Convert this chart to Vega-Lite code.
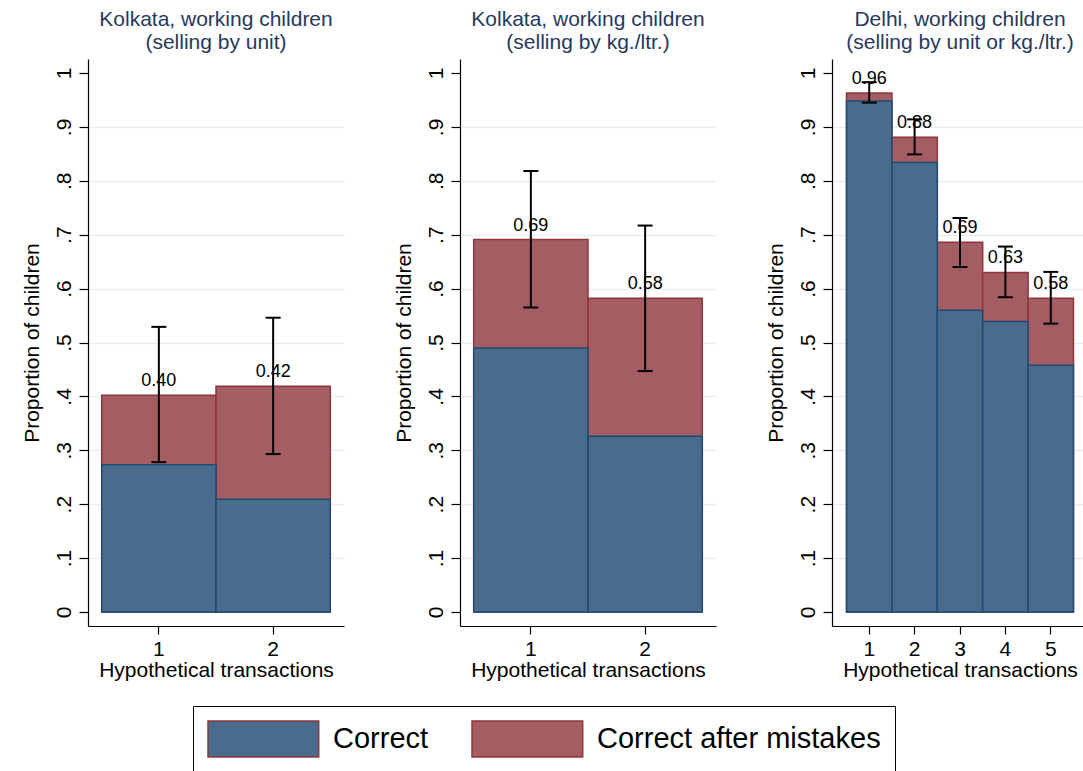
{
  "$schema": "https://vega.github.io/schema/vega-lite/v6.json",
  "background": "white",
  "padding": {"left": 21, "top": 9, "right": 0, "bottom": 0},
  "spacing": 116,
  "bounds": "flush",
  "resolve": {
    "scale": {"x": "independent", "y": "independent", "color": "shared"},
    "legend": {"color": "shared"}
  },
  "hconcat": [
    {
      "width": 256,
      "height": 567,
      "title": {"text": ["Kolkata, working children", "(selling by unit)"]},
      "data": {
        "values": [
          {"t": 1, "correct": 0.273, "total": 0.402, "lo": 0.278, "hi": 0.529},
          {"t": 2, "correct": 0.209, "total": 0.419, "lo": 0.293, "hi": 0.546}
        ]
      },
      "encoding": {
        "x": {
          "field": "t", "type": "ordinal",
          "scale": {"paddingInner": 0, "paddingOuter": 0.12},
          "axis": {"title": "Hypothetical transactions"}
        }
      },
      "layer": [
        {
          "mark": {"type": "bar", "stroke": "#90353b", "strokeWidth": 1.5},
          "encoding": {
            "y": {
              "field": "total", "type": "quantitative", "title": "Proportion of children",
              "scale": {"domain": [-0.026, 1.026], "nice": false, "zero": false},
              "axis": {
                "title": "Proportion of children",
                "values": [0, 0.1, 0.2, 0.3, 0.4, 0.5, 0.6, 0.7, 0.8, 0.9, 1],
                "labelExpr": "datum.value == 0 ? '0' : datum.value == 1 ? '1' : replace(format(datum.value, '.1f'), '0.', '.')",
                "gridOpacity": {"condition": {"test": "datum.value == 0 || datum.value == 1", "value": 0}, "value": 1}
              }
            },
            "y2": {"datum": 0},
            "color": {
              "datum": "Correct after mistakes",
              "scale": {"domain": ["Correct", "Correct after mistakes"], "range": ["#496b8c", "#a45d62"]},
              "legend": {
                "orient": "none",
                "legendX": 105,
                "legendY": 647,
                "direction": "horizontal",
                "title": null,
                "symbolType": "M-1,-1H5.15V1H-1Z",
                "symbolSize": 1296,
                "symbolOpacity": 1,
                "symbolStrokeWidth": 1.5,
                "labelFont": "Liberation Sans",
                "labelFontSize": 29,
                "labelColor": "#000",
                "labelLimit": 400,
                "labelOffset": 88,
                "columnPadding": 40,
                "padding": 14,
                "strokeColor": "#000",
                "fillColor": "#fff",
                "encode": {
                  "symbols": {
                    "update": {
                      "stroke": {"signal": "datum.value === 'Correct' ? '#1f4a72' : '#90353b'"}
                    }
                  }
                }
              }
            }
          }
        },
        {
          "mark": {"type": "bar", "stroke": "#1f4a72", "strokeWidth": 1.5},
          "encoding": {
            "y": {"field": "correct", "type": "quantitative", "title": "Proportion of children", "scale": {"domain": [-0.026, 1.026], "nice": false, "zero": false}},
            "y2": {"datum": 0},
            "color": {"datum": "Correct"}
          }
        },
        {
          "mark": {"type": "text", "fontSize": 18, "baseline": "alphabetic", "dy": -9, "color": "#000"},
          "encoding": {
            "y": {"field": "total", "type": "quantitative", "title": "Proportion of children", "scale": {"domain": [-0.026, 1.026], "nice": false, "zero": false}},
            "text": {"field": "total", "type": "quantitative", "format": ".2f"}
          }
        },
        {
          "mark": {"type": "rule", "strokeWidth": 2, "color": "#000"},
          "encoding": {
            "y": {"field": "lo", "type": "quantitative", "title": "Proportion of children", "scale": {"domain": [-0.026, 1.026], "nice": false, "zero": false}},
            "y2": {"field": "hi"}
          }
        },
        {
          "mark": {"type": "tick", "size": 15, "thickness": 2, "color": "#000", "opacity": 1},
          "encoding": {
            "y": {"field": "lo", "type": "quantitative", "title": "Proportion of children", "scale": {"domain": [-0.026, 1.026], "nice": false, "zero": false}}
          }
        },
        {
          "mark": {"type": "tick", "size": 15, "thickness": 2, "color": "#000", "opacity": 1},
          "encoding": {
            "y": {"field": "hi", "type": "quantitative", "title": "Proportion of children", "scale": {"domain": [-0.026, 1.026], "nice": false, "zero": false}}
          }
        }
      ]
    },
    {
      "width": 256,
      "height": 567,
      "title": {"text": ["Kolkata, working children", "(selling by kg./ltr.)"]},
      "data": {
        "values": [
          {"t": 1, "correct": 0.49, "total": 0.691, "lo": 0.565, "hi": 0.818},
          {"t": 2, "correct": 0.326, "total": 0.582, "lo": 0.447, "hi": 0.717}
        ]
      },
      "encoding": {
        "x": {
          "field": "t", "type": "ordinal",
          "scale": {"paddingInner": 0, "paddingOuter": 0.12},
          "axis": {"title": "Hypothetical transactions"}
        }
      },
      "layer": [
        {
          "mark": {"type": "bar", "stroke": "#90353b", "strokeWidth": 1.5},
          "encoding": {
            "y": {
              "field": "total", "type": "quantitative", "title": "Proportion of children",
              "scale": {"domain": [-0.026, 1.026], "nice": false, "zero": false},
              "axis": {
                "title": "Proportion of children",
                "values": [0, 0.1, 0.2, 0.3, 0.4, 0.5, 0.6, 0.7, 0.8, 0.9, 1],
                "labelExpr": "datum.value == 0 ? '0' : datum.value == 1 ? '1' : replace(format(datum.value, '.1f'), '0.', '.')",
                "gridOpacity": {"condition": {"test": "datum.value == 0 || datum.value == 1", "value": 0}, "value": 1}
              }
            },
            "y2": {"datum": 0},
            "color": {"datum": "Correct after mistakes"}
          }
        },
        {
          "mark": {"type": "bar", "stroke": "#1f4a72", "strokeWidth": 1.5},
          "encoding": {
            "y": {"field": "correct", "type": "quantitative", "title": "Proportion of children", "scale": {"domain": [-0.026, 1.026], "nice": false, "zero": false}},
            "y2": {"datum": 0},
            "color": {"datum": "Correct"}
          }
        },
        {
          "mark": {"type": "text", "fontSize": 18, "baseline": "alphabetic", "dy": -9, "color": "#000"},
          "encoding": {
            "y": {"field": "total", "type": "quantitative", "title": "Proportion of children", "scale": {"domain": [-0.026, 1.026], "nice": false, "zero": false}},
            "text": {"field": "total", "type": "quantitative", "format": ".2f"}
          }
        },
        {
          "mark": {"type": "rule", "strokeWidth": 2, "color": "#000"},
          "encoding": {
            "y": {"field": "lo", "type": "quantitative", "title": "Proportion of children", "scale": {"domain": [-0.026, 1.026], "nice": false, "zero": false}},
            "y2": {"field": "hi"}
          }
        },
        {
          "mark": {"type": "tick", "size": 15, "thickness": 2, "color": "#000", "opacity": 1},
          "encoding": {
            "y": {"field": "lo", "type": "quantitative", "title": "Proportion of children", "scale": {"domain": [-0.026, 1.026], "nice": false, "zero": false}}
          }
        },
        {
          "mark": {"type": "tick", "size": 15, "thickness": 2, "color": "#000", "opacity": 1},
          "encoding": {
            "y": {"field": "hi", "type": "quantitative", "title": "Proportion of children", "scale": {"domain": [-0.026, 1.026], "nice": false, "zero": false}}
          }
        }
      ]
    },
    {
      "width": 256,
      "height": 567,
      "title": {"text": ["Delhi, working children", "(selling by unit or kg./ltr.)"]},
      "data": {
        "values": [
          {"t": 1, "correct": 0.948, "total": 0.963, "lo": 0.945, "hi": 0.983},
          {"t": 2, "correct": 0.834, "total": 0.881, "lo": 0.849, "hi": 0.914},
          {"t": 3, "correct": 0.56, "total": 0.686, "lo": 0.64, "hi": 0.731},
          {"t": 4, "correct": 0.539, "total": 0.63, "lo": 0.584, "hi": 0.678},
          {"t": 5, "correct": 0.458, "total": 0.582, "lo": 0.535, "hi": 0.631}
        ]
      },
      "encoding": {
        "x": {
          "field": "t", "type": "ordinal",
          "scale": {"paddingInner": 0, "paddingOuter": 0.32},
          "axis": {"title": "Hypothetical transactions"}
        }
      },
      "layer": [
        {
          "mark": {"type": "bar", "stroke": "#90353b", "strokeWidth": 1.5},
          "encoding": {
            "y": {
              "field": "total", "type": "quantitative", "title": "Proportion of children",
              "scale": {"domain": [-0.026, 1.026], "nice": false, "zero": false},
              "axis": {
                "title": "Proportion of children",
                "values": [0, 0.1, 0.2, 0.3, 0.4, 0.5, 0.6, 0.7, 0.8, 0.9, 1],
                "labelExpr": "datum.value == 0 ? '0' : datum.value == 1 ? '1' : replace(format(datum.value, '.1f'), '0.', '.')",
                "gridOpacity": {"condition": {"test": "datum.value == 0 || datum.value == 1", "value": 0}, "value": 1}
              }
            },
            "y2": {"datum": 0},
            "color": {"datum": "Correct after mistakes"}
          }
        },
        {
          "mark": {"type": "bar", "stroke": "#1f4a72", "strokeWidth": 1.5},
          "encoding": {
            "y": {"field": "correct", "type": "quantitative", "title": "Proportion of children", "scale": {"domain": [-0.026, 1.026], "nice": false, "zero": false}},
            "y2": {"datum": 0},
            "color": {"datum": "Correct"}
          }
        },
        {
          "mark": {"type": "text", "fontSize": 18, "baseline": "alphabetic", "dy": -9, "color": "#000"},
          "encoding": {
            "y": {"field": "total", "type": "quantitative", "title": "Proportion of children", "scale": {"domain": [-0.026, 1.026], "nice": false, "zero": false}},
            "text": {"field": "total", "type": "quantitative", "format": ".2f"}
          }
        },
        {
          "mark": {"type": "rule", "strokeWidth": 2, "color": "#000"},
          "encoding": {
            "y": {"field": "lo", "type": "quantitative", "title": "Proportion of children", "scale": {"domain": [-0.026, 1.026], "nice": false, "zero": false}},
            "y2": {"field": "hi"}
          }
        },
        {
          "mark": {"type": "tick", "size": 15, "thickness": 2, "color": "#000", "opacity": 1},
          "encoding": {
            "y": {"field": "lo", "type": "quantitative", "title": "Proportion of children", "scale": {"domain": [-0.026, 1.026], "nice": false, "zero": false}}
          }
        },
        {
          "mark": {"type": "tick", "size": 15, "thickness": 2, "color": "#000", "opacity": 1},
          "encoding": {
            "y": {"field": "hi", "type": "quantitative", "title": "Proportion of children", "scale": {"domain": [-0.026, 1.026], "nice": false, "zero": false}}
          }
        }
      ]
    }
  ],
  "config": {
    "font": "Liberation Sans",
    "view": {"stroke": null},
    "axis": {
      "labelFont": "Liberation Sans",
      "titleFont": "Liberation Sans",
      "labelFontSize": 21,
      "titleFontSize": 21,
      "titleFontWeight": "normal",
      "labelColor": "#000",
      "titleColor": "#000",
      "domainColor": "#000",
      "tickColor": "#000",
      "domainWidth": 1.2,
      "tickWidth": 1.2
    },
    "axisY": {
      "gridColor": "#e6eef1",
      "gridWidth": 1.5,
      "tickSize": 9,
      "labelAngle": -90,
      "labelAlign": "center",
      "labelBaseline": "bottom",
      "labelPadding": 5,
      "titlePadding": 11
    },
    "axisX": {
      "grid": false,
      "tickSize": 8,
      "labelAngle": 0,
      "labelPadding": 4,
      "titlePadding": 0
    },
    "title": {
      "font": "Liberation Sans",
      "fontSize": 21,
      "fontWeight": "normal",
      "color": "#27395e",
      "lineHeight": 23,
      "offset": 6
    }
  }
}
